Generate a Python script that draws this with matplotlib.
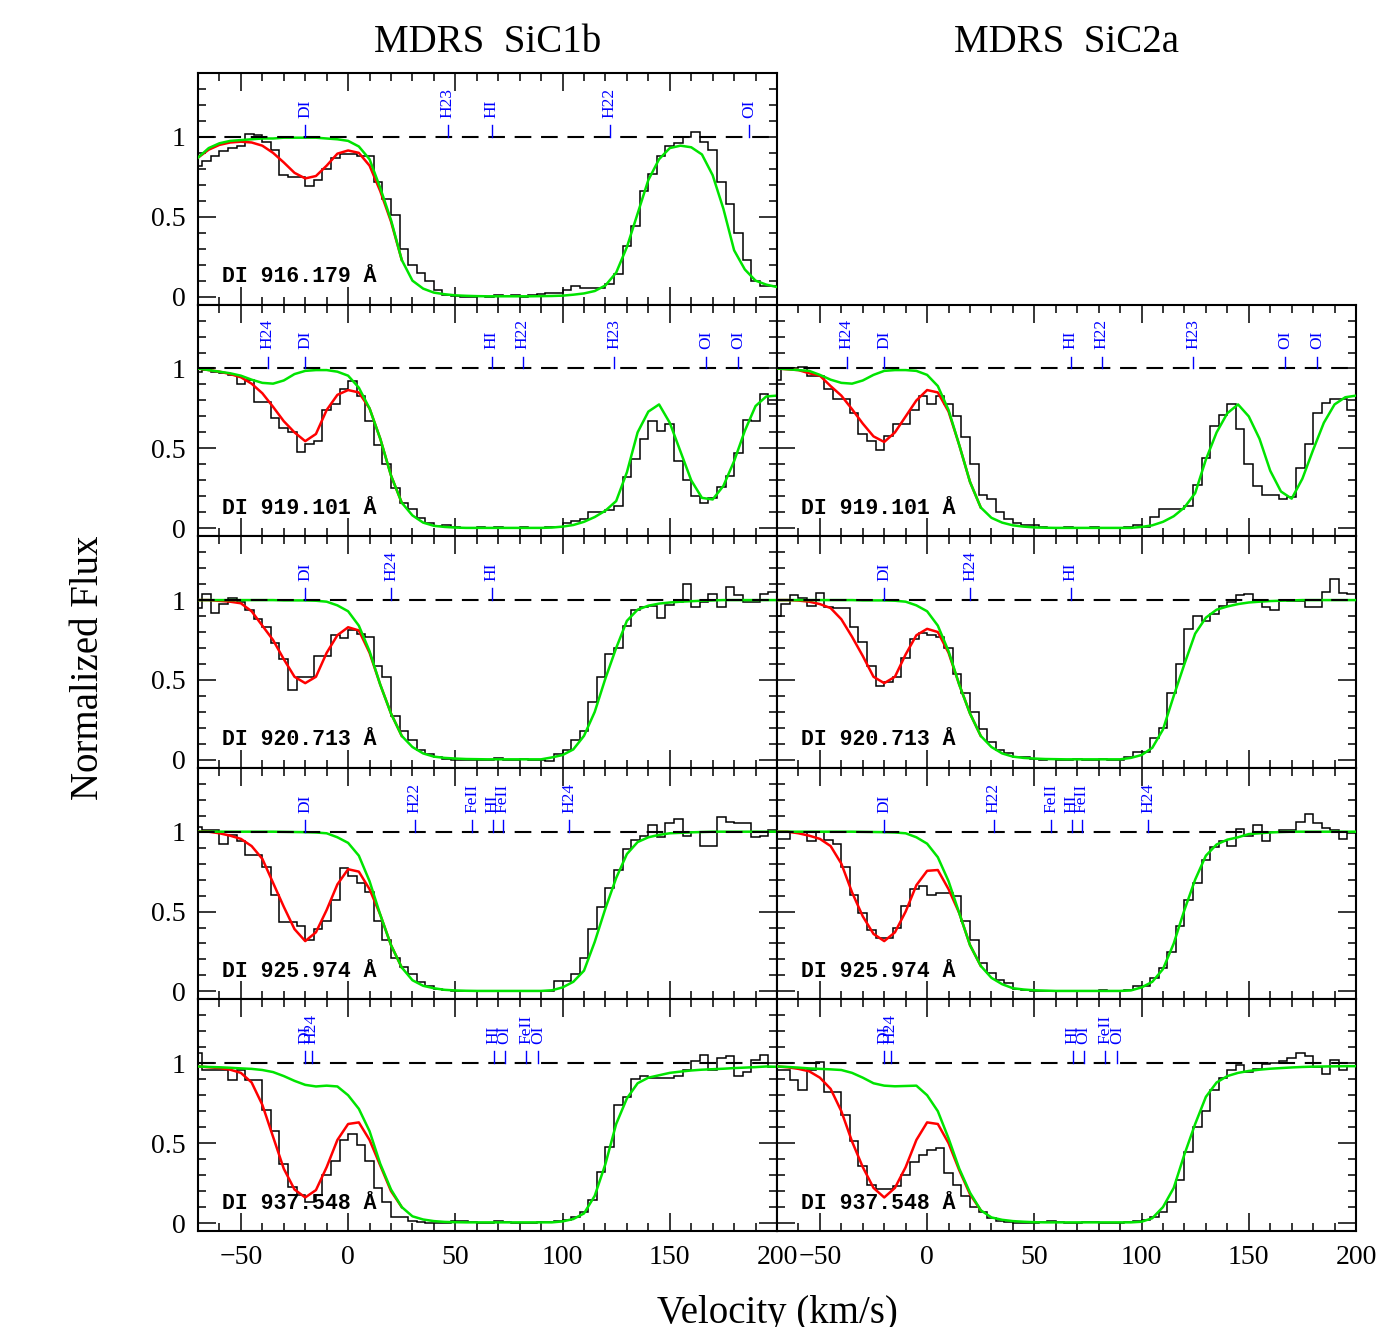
import numpy as np
import matplotlib
matplotlib.use('Agg')
import matplotlib.pyplot as plt
from matplotlib.ticker import MultipleLocator, FormatStrFormatter

plt.rcParams['font.family'] = ['Liberation Serif', 'DejaVu Serif']
plt.rcParams['lines.scale_dashes'] = False

# velocity grids (km/s)
BIN_EDGES = np.arange(-72, 201, 4)   # edges of the 68 binned data points
V_MODEL = np.arange(-70, 201, 5)     # model sampling
V_DI = np.arange(-70, 26, 5)         # D I region, where the full model departs from the no-D model

# ---- D I 916.179 (SiC1b only) ----
FLUX_916_1B = [
    0.82, 0.85, 0.88, 0.91, 0.93, 0.94, 1.02, 1.01, 0.97, 0.92, 0.76, 0.75, 0.75, 0.69, 0.73, 0.80, 0.87,
    0.89, 0.89, 0.88, 0.88, 0.72, 0.61, 0.51, 0.30, 0.20, 0.15, 0.096, 0.044, 0.012, 0.005, 0.0, 0.0, 0.005,
    0.0, 0.01, 0.005, 0.01, 0.0, 0.01, 0.015, 0.02, 0.025, 0.04, 0.065, 0.055, 0.055, 0.055, 0.08, 0.14, 0.32,
    0.44, 0.66, 0.77, 0.88, 0.94, 0.96, 1.0, 1.03, 0.97, 0.92, 0.72, 0.58, 0.40, 0.23, 0.10, 0.065, 0.065]
NOD_916_1B = [
    0.87, 0.93, 0.96, 0.975, 0.98, 0.985, 0.99, 0.99, 0.995, 0.995, 0.995,
    0.995, 0.99, 0.985, 0.975, 0.94, 0.86, 0.68, 0.48, 0.23, 0.10, 0.05,
    0.025, 0.015, 0.008, 0.005, 0.003, 0.002, 0.002, 0.002, 0.002, 0.002, 0.003,
    0.004, 0.006, 0.012, 0.02, 0.035, 0.07, 0.15, 0.31, 0.52, 0.73, 0.86,
    0.93, 0.945, 0.935, 0.89, 0.76, 0.55, 0.29, 0.17, 0.10, 0.075, 0.06]
FIT_916_1B = [0.87, 0.92, 0.95, 0.965, 0.97, 0.965, 0.945, 0.90, 0.84, 0.775,
              0.74, 0.755, 0.82, 0.895, 0.915, 0.90, 0.82, 0.66, 0.47, 0.23]

# ---- D I 919.101 ----
FLUX_919_1B = [
    0.98, 0.99, 0.98, 0.97, 0.96, 0.90, 0.93, 0.79, 0.79, 0.69, 0.63, 0.60, 0.48, 0.53, 0.545, 0.74, 0.775,
    0.87, 0.92, 0.83, 0.67, 0.52, 0.40, 0.25, 0.16, 0.12, 0.067, 0.035, 0.015, 0.023, 0.005, 0.0, 0.0, 0.005,
    0.0, 0.005, 0.0, 0.0, 0.005, 0.0, 0.0, 0.005, 0.01, 0.03, 0.045, 0.06, 0.10, 0.10, 0.115, 0.14, 0.32,
    0.435, 0.56, 0.67, 0.61, 0.65, 0.42, 0.30, 0.20, 0.16, 0.19, 0.26, 0.33, 0.47, 0.68, 0.67, 0.84, 0.78]
NOD_919_1B = [
    1.0, 0.99, 0.98, 0.97, 0.955, 0.93, 0.91, 0.905, 0.925, 0.965, 0.985,
    0.99, 0.99, 0.98, 0.955, 0.88, 0.75, 0.56, 0.33, 0.16, 0.08, 0.035,
    0.015, 0.008, 0.004, 0.002, 0.002, 0.002, 0.002, 0.002, 0.002, 0.002, 0.002,
    0.004, 0.01, 0.02, 0.04, 0.07, 0.11, 0.17, 0.35, 0.60, 0.73, 0.775,
    0.66, 0.48, 0.30, 0.19, 0.18, 0.265, 0.42, 0.61, 0.765, 0.825, 0.83]
FIT_919_1B = [1.0, 0.99, 0.98, 0.965, 0.945, 0.905, 0.845, 0.76, 0.67, 0.60,
              0.545, 0.59, 0.74, 0.835, 0.865, 0.85, 0.75, 0.56, 0.33, 0.16]

FLUX_919_2A = [
    0.93, 1.0, 1.0, 1.01, 0.955, 0.955, 0.87, 0.81, 0.81, 0.72, 0.59, 0.545, 0.49, 0.58, 0.65, 0.65, 0.74,
    0.83, 0.78, 0.83, 0.78, 0.70, 0.57, 0.40, 0.21, 0.18, 0.10, 0.056, 0.03, 0.02, 0.02, 0.005, 0.0, 0.0,
    0.005, 0.0, 0.0, 0.005, 0.0, 0.0, 0.0, 0.01, 0.02, 0.01, 0.07, 0.12, 0.12, 0.12, 0.14, 0.27, 0.44,
    0.64, 0.71, 0.78, 0.62, 0.40, 0.265, 0.21, 0.21, 0.185, 0.195, 0.38, 0.53, 0.72, 0.785, 0.806, 0.81, 0.74]
NOD_919_2A = [
    1.0, 0.995, 0.99, 0.985, 0.96, 0.93, 0.91, 0.905, 0.925, 0.96, 0.985,
    0.99, 0.99, 0.985, 0.96, 0.89, 0.74, 0.52, 0.29, 0.13, 0.065, 0.035,
    0.018, 0.01, 0.005, 0.003, 0.002, 0.002, 0.002, 0.002, 0.002, 0.002, 0.002,
    0.002, 0.008, 0.018, 0.04, 0.075, 0.13, 0.22, 0.43, 0.60, 0.72, 0.775,
    0.70, 0.56, 0.36, 0.23, 0.185, 0.31, 0.49, 0.66, 0.775, 0.82, 0.83]
FIT_919_2A = [1.0, 0.995, 0.99, 0.97, 0.955, 0.89, 0.83, 0.745, 0.655, 0.575,
              0.54, 0.60, 0.70, 0.80, 0.865, 0.85, 0.73, 0.52, 0.29, 0.13]

# ---- D I 920.713 ----
FLUX_920_1B = [
    0.95, 1.04, 0.92, 0.975, 1.01, 0.99, 0.94, 0.88, 0.83, 0.73, 0.63, 0.44, 0.52, 0.52, 0.65, 0.65, 0.78,
    0.76, 0.81, 0.79, 0.77, 0.59, 0.52, 0.275, 0.18, 0.125, 0.0625, 0.0375, 0.02, 0.005, 0.0, 0.0, 0.0, 0.0,
    0.0, 0.01, 0.0, 0.0, 0.005, 0.0, 0.0, -0.005, 0.0375, 0.0625, 0.125, 0.18, 0.365, 0.52, 0.66, 0.70, 0.84,
    0.94, 0.955, 0.96, 0.89, 0.97, 0.985, 1.1, 0.955, 0.985, 1.04, 0.955, 1.08, 1.03, 0.985, 0.99, 1.04, 1.05]
NOD_920_1B = [
    1.0, 1.0, 1.0, 1.0, 1.0, 1.0, 1.0, 1.0, 0.998, 0.998, 0.998,
    0.996, 0.99, 0.967, 0.93, 0.84, 0.68, 0.47, 0.29, 0.15, 0.08, 0.04,
    0.02, 0.012, 0.008, 0.005, 0.004, 0.003, 0.003, 0.003, 0.003, 0.003, 0.003,
    0.015, 0.03, 0.065, 0.15, 0.30, 0.51, 0.70, 0.87, 0.94, 0.965, 0.978,
    0.985, 0.99, 0.993, 0.996, 0.998, 1.0, 1.0, 1.0, 1.0, 1.0, 1.0]
FIT_920_1B = [1.0, 1.0, 0.995, 0.99, 0.98, 0.93, 0.84, 0.75, 0.63, 0.52,
              0.48, 0.52, 0.67, 0.78, 0.83, 0.81, 0.67, 0.47, 0.29, 0.15]

FLUX_920_2A = [
    0.90, 0.975, 1.03, 1.01, 0.96, 1.045, 0.955, 0.95, 0.95, 0.83, 0.74, 0.59, 0.46, 0.49, 0.52, 0.635, 0.756,
    0.796, 0.78, 0.77, 0.70, 0.54, 0.42, 0.30, 0.19, 0.11, 0.06, 0.04, 0.02, 0.02, 0.005, 0.0, 0.005, 0.0,
    0.0, 0.005, 0.0, 0.0, 0.005, 0.0, 0.0, 0.015, 0.046, 0.046, 0.135, 0.20, 0.42, 0.60, 0.82, 0.90, 0.87,
    0.91, 0.96, 0.99, 1.03, 1.04, 1.0, 0.955, 0.94, 1.0, 0.995, 0.995, 0.955, 0.955, 1.05, 1.135, 1.045, 1.04]
NOD_920_2A = [
    1.0, 1.0, 1.0, 1.0, 1.0, 1.0, 1.0, 1.0, 0.998, 0.998, 0.998,
    0.996, 0.99, 0.967, 0.93, 0.84, 0.68, 0.47, 0.29, 0.15, 0.08, 0.04,
    0.02, 0.012, 0.008, 0.005, 0.004, 0.003, 0.003, 0.003, 0.003, 0.003, 0.003,
    0.012, 0.03, 0.075, 0.19, 0.40, 0.60, 0.79, 0.89, 0.94, 0.96, 0.975,
    0.985, 0.99, 0.994, 0.996, 0.998, 1.0, 1.0, 1.0, 1.0, 1.0, 1.0]
FIT_920_2A = [1.0, 1.0, 0.997, 0.99, 0.975, 0.95, 0.88, 0.77, 0.65, 0.52,
              0.48, 0.52, 0.66, 0.78, 0.82, 0.80, 0.67, 0.47, 0.29, 0.15]

# ---- D I 925.974 ----
FLUX_925_1B = [
    1.03, 1.01, 1.01, 0.925, 0.98, 0.94, 0.856, 0.856, 0.78, 0.606, 0.433, 0.433, 0.41, 0.325, 0.39, 0.44, 0.575,
    0.77, 0.72, 0.68, 0.62, 0.44, 0.325, 0.21, 0.15, 0.106, 0.058, 0.033, 0.015, 0.01, 0.005, 0.0, 0.0, 0.0,
    0.005, 0.0, 0.0, 0.005, 0.0, 0.005, 0.0, 0.005, 0.065, 0.065, 0.106, 0.21, 0.39, 0.53, 0.65, 0.76, 0.89,
    0.95, 0.975, 1.04, 0.967, 1.054, 1.08, 0.975, 1.0, 0.91, 0.91, 1.09, 1.06, 1.054, 1.054, 0.967, 0.975, 1.01]
NOD_925_1B = [
    1.0, 1.0, 1.0, 1.0, 1.0, 1.0, 1.0, 1.0, 0.999, 0.998, 0.997,
    0.995, 0.99, 0.965, 0.93, 0.85, 0.69, 0.48, 0.29, 0.15, 0.07, 0.035,
    0.02, 0.01, 0.006, 0.004, 0.003, 0.003, 0.003, 0.003, 0.003, 0.003, 0.003,
    0.007, 0.025, 0.06, 0.13, 0.31, 0.52, 0.71, 0.86, 0.935, 0.965, 0.98,
    0.99, 0.993, 0.996, 0.998, 1.0, 1.0, 1.0, 1.0, 1.0, 1.0, 1.0]
FIT_925_1B = [1.0, 1.0, 0.99, 0.975, 0.955, 0.91, 0.83, 0.68, 0.53, 0.39,
              0.315, 0.37, 0.51, 0.67, 0.765, 0.75, 0.64, 0.48, 0.29, 0.15]

FLUX_925_2A = [
    0.954, 0.954, 1.0, 1.0, 0.94, 1.0, 0.95, 0.92, 0.78, 0.606, 0.49, 0.383, 0.335, 0.335, 0.40, 0.533, 0.64,
    0.66, 0.606, 0.617, 0.617, 0.60, 0.44, 0.325, 0.18, 0.117, 0.07, 0.05, 0.017, 0.01, 0.005, 0.0, 0.005, 0.0,
    0.0, 0.005, 0.0, 0.0, 0.01, 0.005, 0.005, 0.01, 0.033, 0.033, 0.085, 0.148, 0.245, 0.41, 0.575, 0.68, 0.825,
    0.904, 0.94, 0.91, 1.017, 0.975, 1.044, 0.94, 1.0, 1.008, 1.008, 1.058, 1.11, 1.054, 1.023, 1.01, 0.954, 0.99]
NOD_925_2A = [
    1.0, 1.0, 1.0, 1.0, 1.0, 1.0, 1.0, 1.0, 0.999, 0.998, 0.997,
    0.995, 0.99, 0.965, 0.925, 0.84, 0.69, 0.49, 0.29, 0.16, 0.085, 0.045,
    0.02, 0.012, 0.007, 0.005, 0.003, 0.003, 0.003, 0.003, 0.003, 0.003, 0.003,
    0.006, 0.025, 0.06, 0.14, 0.30, 0.51, 0.70, 0.85, 0.92, 0.95, 0.965,
    0.985, 0.99, 0.995, 0.998, 1.0, 1.0, 1.0, 1.0, 1.0, 1.0, 1.0]
FIT_925_2A = [1.0, 1.0, 0.99, 0.975, 0.955, 0.91, 0.80, 0.62, 0.47, 0.36,
              0.315, 0.37, 0.50, 0.665, 0.755, 0.76, 0.64, 0.49, 0.29, 0.16]

# ---- D I 937.548 ----
FLUX_937_1B = [
    1.065, 0.96, 0.96, 0.96, 0.894, 0.96, 0.894, 0.894, 0.71, 0.577, 0.37, 0.227, 0.175, 0.133, 0.175, 0.30, 0.39,
    0.52, 0.56, 0.49, 0.39, 0.217, 0.133, 0.04, 0.04, 0.015, 0.005, 0.0, 0.0, 0.0, 0.01, 0.01, 0.005, 0.0,
    0.0, 0.01, 0.005, 0.0, 0.0, 0.0, 0.005, 0.005, 0.01, 0.02, 0.04, 0.07, 0.144, 0.32, 0.473, 0.737, 0.79,
    0.904, 0.92, 0.91, 0.91, 0.91, 0.92, 0.956, 1.015, 1.05, 0.96, 1.03, 1.044, 0.92, 0.946, 1.02, 1.05, 0.977]
NOD_937_1B = [
    0.98, 0.977, 0.975, 0.972, 0.968, 0.965, 0.958, 0.945, 0.92, 0.89, 0.865,
    0.855, 0.86, 0.855, 0.80, 0.715, 0.575, 0.37, 0.21, 0.10, 0.042, 0.022,
    0.012, 0.007, 0.005, 0.004, 0.004, 0.004, 0.004, 0.004, 0.004, 0.004, 0.004,
    0.004, 0.01, 0.025, 0.06, 0.17, 0.37, 0.62, 0.78, 0.875, 0.91, 0.925,
    0.94, 0.948, 0.955, 0.96, 0.963, 0.966, 0.97, 0.973, 0.976, 0.98, 0.978]
FIT_937_1B = [0.98, 0.975, 0.97, 0.96, 0.94, 0.88, 0.74, 0.54, 0.34, 0.21,
              0.16, 0.206, 0.35, 0.52, 0.62, 0.63, 0.52, 0.36, 0.20, 0.10]

FLUX_937_2A = [
    0.956, 0.956, 0.894, 0.83, 0.956, 1.01, 0.82, 0.82, 0.675, 0.515, 0.356, 0.24, 0.21, 0.21, 0.23, 0.30, 0.383,
    0.425, 0.456, 0.467, 0.315, 0.24, 0.169, 0.10, 0.07, 0.03, 0.01, 0.005, 0.0, 0.0, 0.0, 0.005, 0.01, 0.005,
    0.0, 0.0, 0.005, 0.005, 0.0, 0.0, 0.0, 0.005, 0.01, 0.02, 0.04, 0.07, 0.133, 0.27, 0.446, 0.60, 0.70,
    0.835, 0.91, 0.96, 0.987, 0.946, 0.967, 0.998, 1.002, 1.015, 1.03, 1.065, 1.044, 0.977, 0.931, 1.023, 0.96, 0.98]
NOD_937_2A = [
    0.98, 0.977, 0.973, 0.968, 0.965, 0.962, 0.958, 0.94, 0.91, 0.875, 0.86,
    0.856, 0.858, 0.86, 0.80, 0.70, 0.53, 0.34, 0.19, 0.08, 0.035, 0.02,
    0.012, 0.008, 0.005, 0.004, 0.004, 0.004, 0.004, 0.004, 0.004, 0.004, 0.004,
    0.004, 0.008, 0.03, 0.10, 0.22, 0.43, 0.62, 0.79, 0.88, 0.92, 0.94,
    0.952, 0.96, 0.966, 0.97, 0.974, 0.977, 0.979, 0.98, 0.981, 0.982, 0.982]
FIT_937_2A = [0.98, 0.975, 0.965, 0.95, 0.91, 0.84, 0.70, 0.51, 0.35, 0.22,
              0.16, 0.22, 0.35, 0.52, 0.63, 0.62, 0.50, 0.33, 0.18, 0.08]

# identified lines in each window: (label, velocity)
LINES_916 = [("DI", -20), ("H23", 46.5), ("HI", 67), ("H22", 122), ("OI", 187)]
LINES_919 = [("H24", -37.5), ("DI", -20), ("HI", 67), ("H22", 81.5), ("H23", 124),
             ("OI", 167), ("OI", 182)]
LINES_920 = [("DI", -20), ("H24", 20), ("HI", 67)]
LINES_925 = [("DI", -20), ("H22", 31), ("FeII", 58), ("HI", 67.5), ("FeII", 72), ("H24", 103)]
LINES_937 = [("DI", -20), ("H24", -17), ("HI", 68), ("OI", 73), ("FeII", 83), ("OI", 88.5)]

W, H = 1380, 1327
ROW_H = 231.6


def panel_rect(x0, row):
    top = 73 + row * ROW_H
    return [x0 / W, 1 - (top + ROW_H) / H, 579 / W, ROW_H / H]


def draw_panel(ax, flux, nod, fit, lines, label, show_x, show_y):
    ax.stairs(flux, BIN_EDGES, baseline=None, color='black', lw=1.1, zorder=2)
    ax.plot(V_DI, fit, color='#ff0000', lw=1.8, zorder=3)
    ax.plot(V_MODEL, nod, color='#00e400', lw=1.8, zorder=4)
    ax.axhline(1.0, color='black', lw=1.5, dashes=(12, 7), zorder=5)
    for name, v in lines:
        ax.plot([v, v], [1.0, 1.075], color='blue', lw=1.0, zorder=6)
        ax.text(v, 1.12, name, rotation=90, ha='center', va='bottom',
                color='blue', fontsize=12.5)
    ax.text(-59, 0.09, label, family='Liberation Mono', weight='bold',
            fontsize=15.5, va='baseline', zorder=7)

    ax.set_xlim(-70, 200)
    ax.set_ylim(-0.05, 1.4)
    ax.xaxis.set_major_locator(MultipleLocator(50))
    ax.xaxis.set_minor_locator(MultipleLocator(10))
    ax.yaxis.set_major_locator(MultipleLocator(0.5))
    ax.yaxis.set_minor_locator(MultipleLocator(0.1))
    ax.yaxis.set_major_formatter(FormatStrFormatter('%g'))
    ax.tick_params(which='both', direction='in', top=True, right=True,
                   width=1.1, labelsize=20)
    ax.tick_params(which='major', length=13)
    ax.tick_params(which='minor', length=6)
    ax.tick_params(axis='x', pad=10, labelbottom=show_x)
    ax.tick_params(axis='y', pad=9, labelleft=show_y)
    for sp in ax.spines.values():
        sp.set_linewidth(1.5)


fig = plt.figure(figsize=(W / 100, H / 100), dpi=100)

left_col = [
    (FLUX_916_1B, NOD_916_1B, FIT_916_1B, LINES_916, "DI 916.179 Å"),
    (FLUX_919_1B, NOD_919_1B, FIT_919_1B, LINES_919, "DI 919.101 Å"),
    (FLUX_920_1B, NOD_920_1B, FIT_920_1B, LINES_920, "DI 920.713 Å"),
    (FLUX_925_1B, NOD_925_1B, FIT_925_1B, LINES_925, "DI 925.974 Å"),
    (FLUX_937_1B, NOD_937_1B, FIT_937_1B, LINES_937, "DI 937.548 Å"),
]
right_col = [
    (FLUX_919_2A, NOD_919_2A, FIT_919_2A, LINES_919, "DI 919.101 Å"),
    (FLUX_920_2A, NOD_920_2A, FIT_920_2A, LINES_920, "DI 920.713 Å"),
    (FLUX_925_2A, NOD_925_2A, FIT_925_2A, LINES_925, "DI 925.974 Å"),
    (FLUX_937_2A, NOD_937_2A, FIT_937_2A, LINES_937, "DI 937.548 Å"),
]

for row, (flux, nod, fit, lines, label) in enumerate(left_col):
    ax = fig.add_axes(panel_rect(198, row))
    draw_panel(ax, flux, nod, fit, lines, label, show_x=(row == 4), show_y=True)

for i, (flux, nod, fit, lines, label) in enumerate(right_col):
    ax = fig.add_axes(panel_rect(777, i + 1))
    draw_panel(ax, flux, nod, fit, lines, label, show_x=(i == 3), show_y=False)

fig.text(487.5 / W, 1 - 42 / H, "MDRS  SiC1b", ha='center', va='center', fontsize=28)
fig.text(1066.5 / W, 1 - 42 / H, "MDRS  SiC2a", ha='center', va='center', fontsize=28)
fig.text(88 / W, 1 - 668 / H, "Normalized Flux", rotation=90, ha='center',
         va='center', fontsize=28)
fig.text(777 / W, 1 - 1313 / H, "Velocity (km/s)", ha='center', va='center', fontsize=28)

fig.savefig('out.png', dpi=100)
